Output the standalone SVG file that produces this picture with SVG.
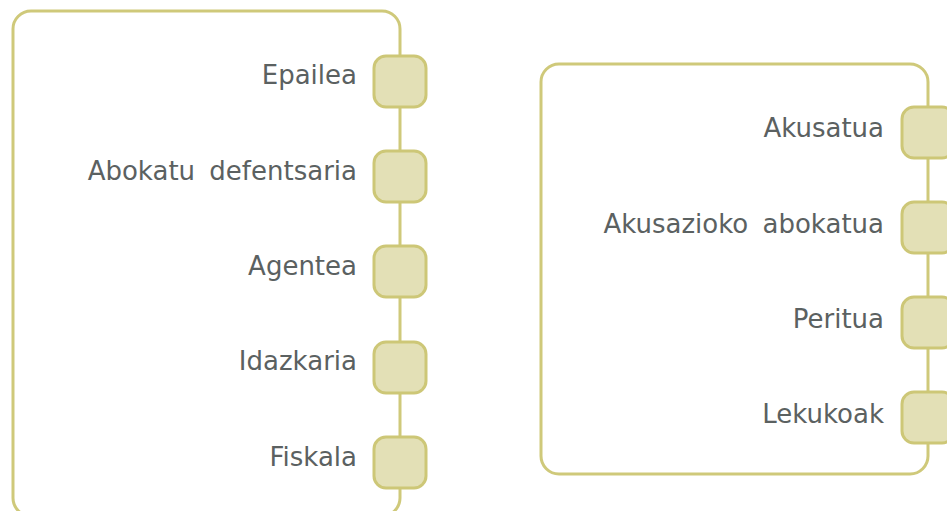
<svg xmlns="http://www.w3.org/2000/svg" width="947" height="511" viewBox="0 0 947 511">
<style>
.box{fill:#ffffff;stroke:#cfc97a;stroke-width:3}
.sq{fill:#e3e0b6;stroke:#cdc777;stroke-width:3}
.lbl{font-family:"DejaVu Sans",Verdana,sans-serif;font-size:26px;fill:#5b6161;text-anchor:end;word-spacing:6px}
</style>
<rect width="947" height="511" fill="#ffffff"/>
<g id="group-left"><rect class="box" x="13" y="11" width="387" height="505" rx="18"/></g>
<g id="group-right"><rect class="box" x="541" y="64" width="387" height="410" rx="18"/></g>
<g id="connectors"></g>
<g id="n-epailea"><rect class="sq" x="374" y="56" width="52" height="51" rx="12"/><text class="lbl" x="357" y="84">Epailea</text></g>
<g id="n-abokatu"><rect class="sq" x="374" y="151" width="52" height="51" rx="12"/><text class="lbl" x="357" y="180">Abokatu defentsaria</text></g>
<g id="n-agentea"><rect class="sq" x="374" y="246" width="52" height="51" rx="12"/><text class="lbl" x="357" y="275">Agentea</text></g>
<g id="n-idazkaria"><rect class="sq" x="374" y="342" width="52" height="51" rx="12"/><text class="lbl" x="357" y="370">Idazkaria</text></g>
<g id="n-fiskala"><rect class="sq" x="374" y="437" width="52" height="51" rx="12"/><text class="lbl" x="357" y="466">Fiskala</text></g>
<g id="n-akusatua"><rect class="sq" x="902" y="107" width="52" height="51" rx="12"/><text class="lbl" x="884" y="137">Akusatua</text></g>
<g id="n-akusazioko"><rect class="sq" x="902" y="202" width="52" height="51" rx="12"/><text class="lbl" x="884" y="233">Akusazioko abokatua</text></g>
<g id="n-peritua"><rect class="sq" x="902" y="297" width="52" height="51" rx="12"/><text class="lbl" x="884" y="328">Peritua</text></g>
<g id="n-lekukoak"><rect class="sq" x="902" y="392" width="52" height="51" rx="12"/><text class="lbl" x="884" y="423">Lekukoak</text></g>
</svg>
